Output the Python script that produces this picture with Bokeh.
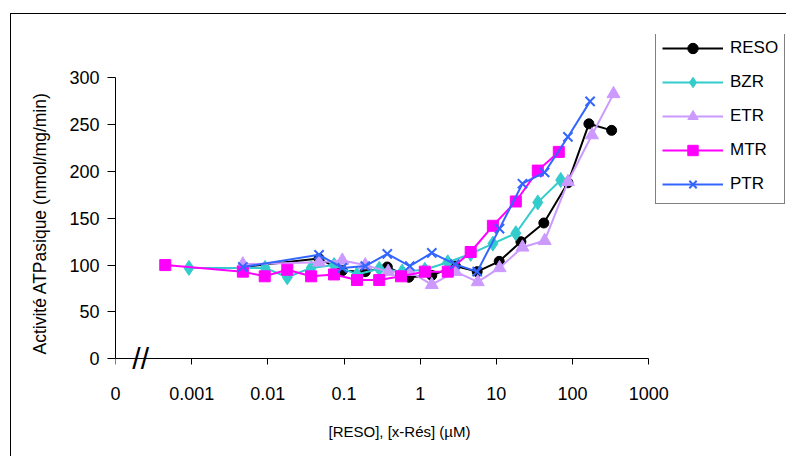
from bokeh.plotting import figure
from bokeh.models import (FixedTicker, Legend, LegendItem, Label, Range1d,
                          InlineStyleSheet, Title, LogAxis)
from bokeh.embed import file_html
from bokeh.resources import INLINE

# ---- data ----
reso_x = [0.0047, 0.047, 0.095, 0.19, 0.37, 0.71, 1.42, 2.9, 5.6, 10.9, 21, 42, 87, 164, 326]
reso_y = [98, 107, 94, 93, 98, 87, 89, 99, 93, 104, 125, 145, 188, 251, 244]

bzr_x = [0.00092, 0.0092, 0.018, 0.037, 0.074, 0.148, 0.29, 0.58, 1.15, 2.3, 4.6, 9.0, 18, 35, 70]
bzr_y = [97, 97, 87, 97, 100, 90, 96, 93, 95, 103, 112, 123, 134, 167, 191]

etr_x = [0.0047, 0.047, 0.095, 0.19, 0.38, 0.73, 1.42, 2.9, 5.7, 11, 22, 43, 87, 180, 345]
etr_y = [101, 103, 105, 100, 93, 93, 79, 93, 82, 97, 119, 126, 189, 239, 283]

mtr_x = [0.00045, 0.0047, 0.0091, 0.018, 0.037, 0.074, 0.148, 0.29, 0.56, 1.15, 2.3, 4.6, 9.0, 18, 35, 66]
mtr_y = [100, 93, 88, 95, 88, 90, 84, 84, 88, 93, 93, 114, 142, 168, 201, 221]

ptr_x = [0.0047, 0.047, 0.095, 0.19, 0.37, 0.73, 1.42, 2.85, 5.6, 11, 22, 43, 87, 170]
ptr_y = [98, 111, 97, 99, 112, 99, 113, 101, 93, 139, 187, 199, 237, 275]

x_ticks = [1e-4, 1e-3, 1e-2, 1e-1, 1, 10, 100, 1000]
x_tick_labels = ["0", "0.001", "0.01", "0.1", "1", "10", "100", "1000"]
y_ticks = [0, 50, 100, 150, 200, 250, 300]

FONT = "Liberation Sans"

# layout geometry (pixels)
W, H = 776, 443
B_LEFT, B_TOP = 103, 20
FRAME_W = 672           # frame extends to the right to host the legend
AXIS_W = 534            # pixel length of the 1e-4 .. 1e3 axis
AXIS_H = 284            # pixel length of the 0 .. 300 axis
BELOW0 = 12             # frame extends this many px below the value 0
FRAME_H = 44 + AXIS_H + BELOW0
B_BOTTOM = H - B_TOP - FRAME_H

x_end = 10 ** (-4 + 7 * FRAME_W / AXIS_W)
y_start = -300 * BELOW0 / AXIS_H
y_end = y_start + 300 * FRAME_H / AXIS_H

p = figure(width=W, height=H, x_axis_type="log",
           x_range=Range1d(1e-4, x_end), y_range=Range1d(y_start, y_end),
           output_backend="svg", toolbar_location=None,
           min_border_left=B_LEFT, min_border_top=B_TOP, min_border_bottom=B_BOTTOM,
           min_border_right=W - B_LEFT - FRAME_W)
p.margin = (13, 0, 0, 10)
p.stylesheets = [InlineStyleSheet(css=":host { border-left: 1px solid black; border-top: 1px solid black; }")]
p.outline_line_color = None
p.xgrid.grid_line_color = None
p.ygrid.grid_line_color = None

# x axis line + ticks sitting at value 0 (its own labels are hidden)
xa = p.xaxis[0]
xa.ticker = FixedTicker(ticks=x_ticks, minor_ticks=[])
xa.bounds = (1e-4, 1e3)
xa.fixed_location = 0
xa.major_tick_in = 0
xa.major_tick_out = 6
xa.minor_tick_out = 0
xa.minor_tick_in = 0
xa.axis_line_color = "black"
xa.major_tick_line_color = "black"
xa.major_label_text_font_size = "2px"
xa.major_label_text_alpha = 0
xa.major_label_standoff = 0

# x tick labels on a second axis (no line / ticks)
xl = LogAxis(ticker=FixedTicker(ticks=x_ticks, minor_ticks=[]))
xl.major_label_overrides = {t: l for t, l in zip(x_ticks, x_tick_labels)}
xl.axis_line_color = None
xl.major_tick_line_color = None
xl.minor_tick_line_color = None
xl.major_tick_in = 0
xl.major_tick_out = 0
xl.major_label_standoff = 16
xl.major_label_text_font = FONT
xl.major_label_text_font_size = "18px"
xl.major_label_text_color = "black"
p.add_layout(xl, "below")

ya = p.yaxis[0]
ya.ticker = FixedTicker(ticks=y_ticks, minor_ticks=[])
ya.bounds = (0, 300)
ya.major_tick_in = 0
ya.major_tick_out = 8
ya.minor_tick_out = 0
ya.minor_tick_in = 0
ya.major_label_standoff = 8
ya.axis_line_color = "black"
ya.major_tick_line_color = "black"
ya.major_label_text_font = FONT
ya.major_label_text_font_size = "18px"
ya.major_label_text_color = "black"

x_title = Title(text="[RESO], [x-Rés] (µM)", align="left", offset=213,
                text_font=FONT, text_font_size="15px", text_font_style="normal",
                text_color="black", standoff=36)
p.add_layout(x_title, "below")

y_title = Title(text="Activité ATPasique (nmol/mg/min)", align="left", offset=16,
                text_font=FONT, text_font_size="17.5px", text_font_style="normal",
                text_color="black", standoff=33)
p.add_layout(y_title, "left")

series = [
    ("RESO", reso_x, reso_y, "#000000", "circle", 10),
    ("BZR", bzr_x, bzr_y, "#33CCCC", "diamond", 15),
    ("ETR", etr_x, etr_y, "#CC99FF", "triangle", 13),
    ("MTR", mtr_x, mtr_y, "#FF00FF", "square", 11),
    ("PTR", ptr_x, ptr_y, "#3366FF", "x", 13),
]

items = []
for name, xs, ys, col, mk, sz in series:
    l = p.line(xs, ys, line_color=col, line_width=2)
    if mk == "x":
        s = p.scatter(xs, ys, marker=mk, size=sz, line_color=col, line_width=2)
    else:
        s = p.scatter(xs, ys, marker=mk, size=sz, fill_color=col, line_color=col)
    items.append(LegendItem(label=name, renderers=[l, s]))

legend = Legend(items=items, location=(540, 154 + BELOW0))
legend.border_line_color = "black"
legend.border_line_width = 1
legend.background_fill_color = "white"
legend.background_fill_alpha = 1
legend.label_text_font = FONT
legend.label_text_font_size = "17px"
legend.label_text_color = "black"
legend.padding = 6
legend.glyph_width = 61
legend.glyph_height = 26
legend.label_height = 26
legend.label_standoff = 7
legend.spacing = 8
legend.margin = 0
p.add_layout(legend, "center")

brk = Label(x=10 ** -3.67, y=0, text="//", text_font=FONT, text_font_size="30px",
            text_align="center", text_baseline="middle", text_color="black")
p.add_layout(brk)

open("out.html", "w").write(file_html(p, INLINE))
